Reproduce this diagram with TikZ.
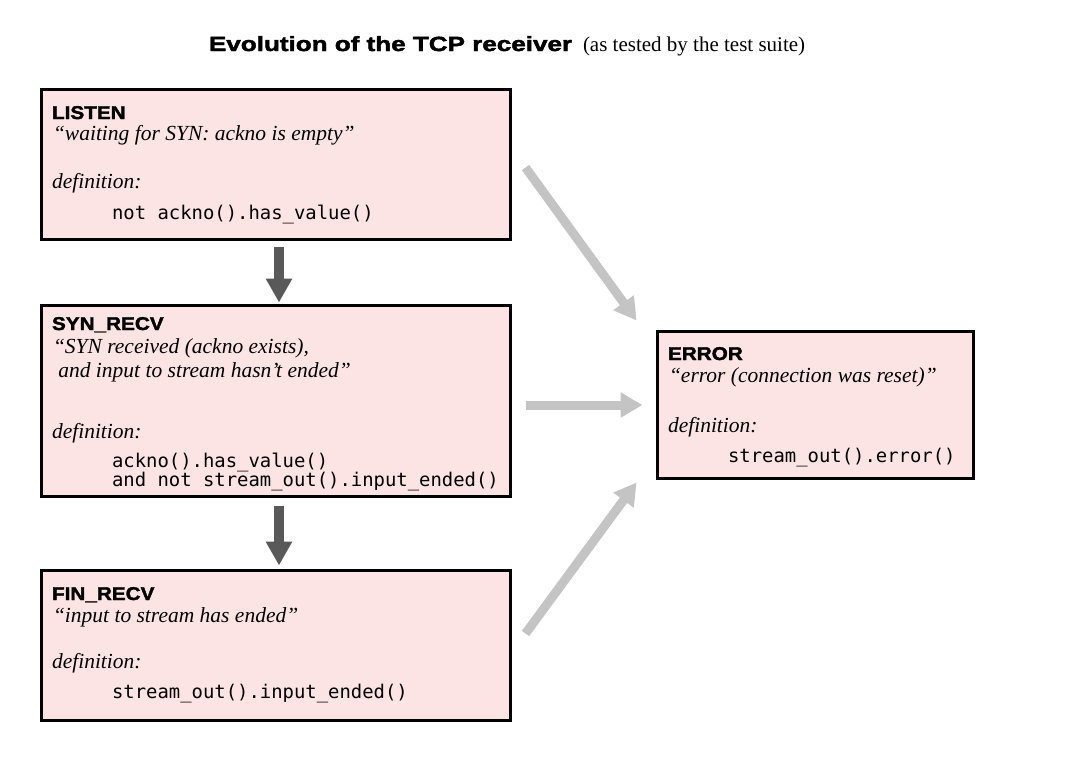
\documentclass[tikz,border=0pt]{standalone}
\usepackage{fontspec}
\setmainfont{Liberation Serif}
\setmonofont{DejaVu Sans Mono}
\newfontfamily\heavyfont{Liberation Sans}[FakeStretch=1.12,FakeBold=2]
\newfontfamily\titleheavy{Liberation Sans}[FakeStretch=1.27,FakeBold=2.2]
\usetikzlibrary{arrows.meta}
\definecolor{boxfill}{HTML}{FDE4E4}
\definecolor{darkarr}{HTML}{595959}
\definecolor{lightarr}{HTML}{C4C4C4}
\tikzset{
  statebox/.style={draw=black, line width=3pt, fill=boxfill, anchor=north west, inner sep=0pt, outer sep=0pt},
  txt/.style={anchor=base west, inner sep=0pt, outer sep=0pt},
  headtxt/.style={txt, font=\heavyfont\bfseries\fontsize{18.5}{18.5}\selectfont},
  quotetxt/.style={txt, font=\itshape\fontsize{21.5}{21.5}\selectfont},
  codetxt/.style={txt, font=\ttfamily\fontsize{18.9}{18.9}\selectfont},
  darkarrow/.style={draw=darkarr, line width=9.5pt, -{Triangle[length=24pt,width=25pt]}},
  lightarrow/.style={draw=lightarr, line width=9pt, -{Triangle[length=22pt,width=24pt]}}
}
\begin{document}
\begin{tikzpicture}[x=1pt,y=-1pt]
\useasboundingbox (0,0) rectangle (1074,763);
% title
\node[txt, font=\titleheavy\bfseries\fontsize{20.5}{20.5}\selectfont] (title) at (209,51) {Evolution of the TCP receiver};
\node[txt, font=\fontsize{21}{21}\selectfont] (subtitle) at (583,51) {(as tested by the test suite)};
% boxes
\node[statebox, minimum width=469pt, minimum height=150pt] (listen) at (41.5,89.5) {};
\node[statebox, minimum width=469pt, minimum height=191pt] (syn) at (41.5,305.5) {};
\node[statebox, minimum width=469pt, minimum height=150pt] (fin) at (41.5,570.5) {};
\node[statebox, minimum width=316pt, minimum height=147pt] (error) at (657.5,331.5) {};
% LISTEN text
\node[headtxt] (l1) at (52,119) {LISTEN};
\node[quotetxt] (l2) at (53,140) {“waiting for SYN: ackno is empty”};
\node[quotetxt] (l3) at (52,188) {definition:};
\node[codetxt] (l4) at (112,219) {not ackno().has\_value()};
% SYN_RECV text
\node[headtxt] (s1) at (52,330) {SYN\_RECV};
\node[quotetxt] (s2) at (53,353) {“SYN received (ackno exists),};
\node[quotetxt] (s3) at (53,377) {\ and input to stream hasn’t ended”};
\node[quotetxt] (s4) at (52,438) {definition:};
\node[codetxt] (s5) at (112,467) {ackno().has\_value()};
\node[codetxt] (s6) at (112,486) {and not stream\_out().input\_ended()};
% FIN_RECV text
\node[headtxt] (f1) at (52,600) {FIN\_RECV};
\node[quotetxt] (f2) at (53,622) {“input to stream has ended”};
\node[quotetxt] (f3) at (52,668) {definition:};
\node[codetxt] (f4) at (112,698) {stream\_out().input\_ended()};
% ERROR text
\node[headtxt] (e1) at (668,360) {ERROR};
\node[quotetxt] (e2) at (669,382) {“error (connection was reset)”};
\node[quotetxt] (e3) at (668,432) {definition:};
\node[codetxt] (e4) at (728,462) {stream\_out().error()};
% dark arrows
\draw[darkarrow] ([xshift=3pt,yshift=-7pt]listen.south) -- ([xshift=3pt,yshift=3pt]syn.north);
\draw[darkarrow] ([xshift=3pt,yshift=-9pt]syn.south) -- ([xshift=3pt,yshift=5pt]fin.north);
% light arrows
\draw[lightarrow] ([shift={(15pt,-3pt)}]listen.east) -- ([shift={(-21pt,11pt)}]error.north west);
\draw[lightarrow] ([xshift=15pt]syn.east |- error.west) -- ([xshift=-15pt]error.west);
\draw[lightarrow] ([shift={(15pt,12pt)}]fin.east) -- ([shift={(-21pt,-4pt)}]error.south west);
\end{tikzpicture}
\end{document}
